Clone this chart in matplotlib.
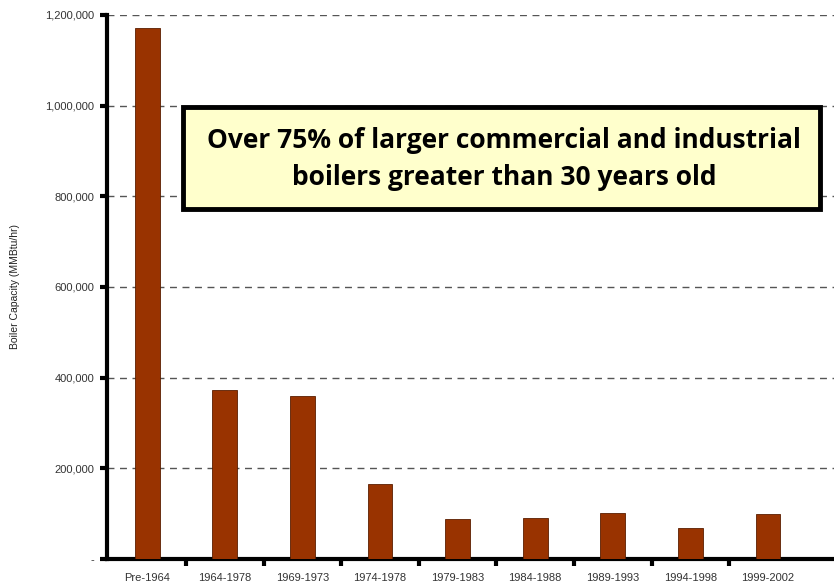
import matplotlib.pyplot as plt
from matplotlib.patches import Rectangle
from matplotlib.ticker import FuncFormatter

plt.rcParams["font.family"] = ["Liberation Sans", "DejaVu Sans"]

# Boiler capacity by installation period (MMBtu/hr)
periods = ["Pre-1964", "1964-1978", "1969-1973", "1974-1978", "1979-1983",
           "1984-1988", "1989-1993", "1994-1998", "1999-2002"]
capacity = [1170000, 372000, 360000, 165000, 88000, 90000, 101000, 68000, 99000]
y_ticks = [0, 200000, 400000, 600000, 800000, 1000000, 1200000]

fig = plt.figure(figsize=(8.34, 5.82), dpi=100)
ax = fig.add_axes([0.128, 0.0395, 0.872, 0.935])

x = list(range(len(periods)))
ax.bar(x, capacity, width=0.32, color="#993300", edgecolor="#5a1e00", linewidth=0.6, zorder=3)

ax.set_xlim(-0.52, 8.85)
ax.set_ylim(0, 1200000)
ax.set_yticks(y_ticks)
ax.yaxis.set_major_formatter(FuncFormatter(lambda v, p: "-" if v == 0 else f"{int(v):,}"))
ax.tick_params(axis="y", length=5, width=3, direction="out", labelsize=8,
               labelcolor="#333333", pad=4)

# category labels centred, ticks between categories
ax.set_xticks([i + 0.5 for i in range(len(periods) - 1)])
ax.set_xticklabels([])
ax.set_xticks(x, minor=True)
ax.set_xticklabels(periods, minor=True, fontsize=8, color="#333333")
ax.tick_params(axis="x", which="major", length=5, width=3, direction="out")
ax.tick_params(axis="x", which="minor", length=0, pad=10)

for s in ["top", "right"]:
    ax.spines[s].set_visible(False)
ax.spines["left"].set_linewidth(3)
ax.spines["bottom"].set_linewidth(3)

ax.yaxis.grid(True, linestyle=(0, (5, 4)), color="#555555", linewidth=1)
ax.set_axisbelow(True)
ax.set_ylabel("Boiler Capacity (MMBtu/hr)", fontsize=7.5, color="#222222", labelpad=18)

# callout box
box = Rectangle((183 / 834, 1 - 209 / 582), (820 - 183) / 834, (209 - 107) / 582,
                transform=fig.transFigure, facecolor="#ffffcc", edgecolor="black",
                linewidth=3.5, zorder=5)
fig.patches.append(box)
fig.text(504 / 834, 1 - 159 / 582,
         "Over 75% of larger commercial and industrial\nboilers greater than 30 years old",
         ha="center", va="center", fontsize=19, fontweight="bold", family="Open Sans",
         linespacing=1.45, zorder=6)

fig.savefig("out.png", dpi=100)
